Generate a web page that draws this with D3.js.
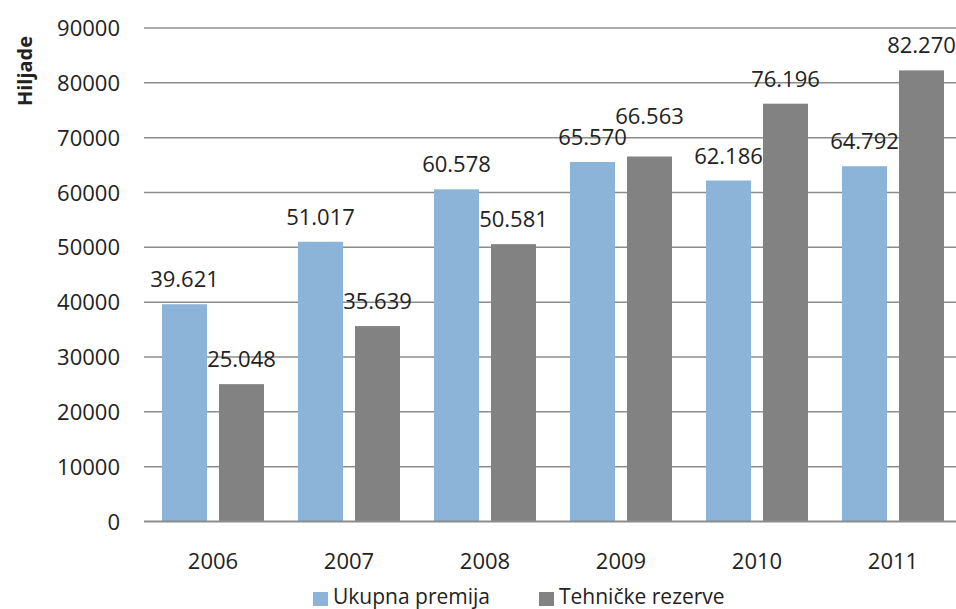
<!DOCTYPE html>
<html><head><meta charset="utf-8">
<script src="https://cdn.jsdelivr.net/npm/d3@7"></script>
<style>body{margin:0;background:#fff}svg{display:block}text{font-family:"Open Sans",sans-serif;fill:#222}</style>
</head><body>
<script>
const years = ["2006","2007","2008","2009","2010","2011"];
const ukupnaPremija = [39621,51017,60578,65570,62186,64792];
const tehnickeRezerve = [25048,35639,50581,66563,76196,82270];
const seriesNames = ["Ukupna premija","Tehničke rezerve"];
const seriesColors = ["#8cb4d8","#828282"];
const yTicks = [0,10000,20000,30000,40000,50000,60000,70000,80000,90000];
const yTitle = "Hiljade";

const W=956,H=609;
const svg=d3.select("body").append("svg").attr("width",W).attr("height",H);
const x=d3.scaleBand().domain(years).range([145,961]).paddingInner(0).paddingOuter(0);
const y=d3.scaleLinear().domain([0,90000]).range([521.5,28]);
const barW=45, gap=12;
const off=[ (x.bandwidth()-2*barW-gap)/2, (x.bandwidth()-2*barW-gap)/2+barW+gap ];

// gridlines
svg.append("g").selectAll("line").data(yTicks.filter(d=>d>0)).join("line")
 .attr("x1",144).attr("x2",W).attr("y1",d=>y(d)).attr("y2",d=>y(d))
 .attr("stroke","#8c8c8c").attr("stroke-width",1.5);

const fmt=v=>d3.format(",")(v).replace(/,/g,".");
const series=[ukupnaPremija,tehnickeRezerve];
// label baselines with simple collision avoidance (like the spreadsheet does)
const labelY=series.map(vals=>vals.map(v=>y(v)-17));
labelY[1]=labelY[1].map((ly,i)=>{
  const other=labelY[0][i];
  return Math.abs(ly-other)<16 ? Math.min(ly,other-21) : ly;
});
series.forEach((vals,si)=>{
  const g=svg.append("g");
  g.selectAll("rect").data(vals).join("rect")
   .attr("x",(d,i)=>x(years[i])+off[si]).attr("width",barW)
   .attr("y",d=>y(d)).attr("height",d=>y(0)-y(d)).attr("fill",seriesColors[si]);
  g.selectAll("text").data(vals).join("text")
   .attr("x",(d,i)=>x(years[i])+off[si]+barW/2).attr("y",(d,i)=>labelY[si][i])
   .attr("text-anchor","middle").style("font-size","22px").text(fmt);
});

// x axis line
svg.append("line").attr("x1",144).attr("x2",W).attr("y1",y(0)).attr("y2",y(0))
 .attr("stroke","#8c8c8c").attr("stroke-width",2);

// y tick labels
svg.append("g").selectAll("text").data(yTicks).join("text")
 .attr("x",120).attr("y",d=>y(d)+8).attr("text-anchor","end").style("font-size","22px").text(d=>d);

// x labels
svg.append("g").selectAll("text").data(years).join("text")
 .attr("x",d=>x(d)+x.bandwidth()/2).attr("y",569).attr("text-anchor","middle").style("font-size","22px").text(d=>d);

// y title
svg.append("text").attr("transform","translate(32,71) rotate(-90)").attr("text-anchor","middle")
 .style("font-size","20px").style("font-weight","bold").text(yTitle);

// legend
const legX=[313,539];
seriesNames.forEach((n,i)=>{
  svg.append("rect").attr("x",legX[i]).attr("y",592).attr("width",15).attr("height",14).attr("fill",seriesColors[i]);
  svg.append("text").attr("x",legX[i]+20).attr("y",603.5).style("font-size","21px").text(n);
});
</script>
</body></html>
